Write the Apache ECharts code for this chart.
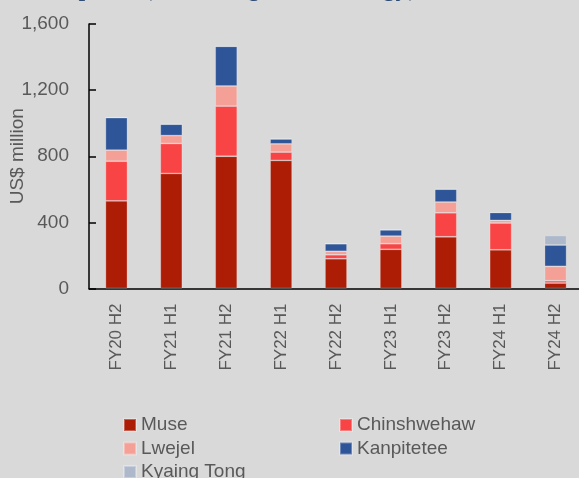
<!DOCTYPE html>
<html>
<head>
<meta charset="utf-8">
<script src="https://cdn.jsdelivr.net/npm/echarts@6/dist/echarts.min.js"></script>
<style>
  html, body { margin: 0; padding: 0; background: #D9D9D9; }
  #chart { width: 579px; height: 478px; }
</style>
</head>
<body>
<div id="chart"></div>
<script>
const categories = ['FY20 H2', 'FY21 H1', 'FY21 H2', 'FY22 H1', 'FY22 H2', 'FY23 H1', 'FY23 H2', 'FY24 H1', 'FY24 H2'];
const muse        = [530, 696, 800, 775, 180, 237, 313, 234, 33];
const chinshwehaw = [240, 181, 303, 50, 24, 34, 145, 162, 14];
const lwejel      = [67, 48, 122, 50, 21, 46, 65, 16, 87];
const kanpitetee  = [197, 69, 240, 30, 46, 38, 78, 48, 129];
const kyaingTong  = [0, 0, 0, 0, 0, 0, 0, 0, 58];
const yTicks = [0, 400, 800, 1200, 1600];

const seriesNames = ['Muse', 'Chinshwehaw', 'Lwejel', 'Kanpitetee', 'Kyaing Tong'];
const seriesData = [muse, chinshwehaw, lwejel, kanpitetee, kyaingTong];
const colors = ['#AD1C05', '#F84444', '#F4A097', '#2E5597', '#ADB9CA'];

const FONT = 'Liberation Sans';
const GREY = '#595959';

const chart = echarts.init(document.getElementById('chart'), null, { renderer: 'canvas' });
chart.setOption({
  backgroundColor: '#D9D9D9',
  animation: false,
  color: colors,
  title: {
    text: 'Exports (excluding oil & energy)',
    left: 51,
    top: -26,
    padding: 0,
    textStyle: { fontFamily: 'Liberation Serif', fontStyle: 'italic', fontWeight: 'normal', fontSize: 28, color: '#2E4B74' }
  },
  grid: { left: 89, right: -4, top: 24, bottom: 189.5, containLabel: false, outerBoundsMode: 'none' },
  legend: [
    {
      orient: 'vertical', left: 123, top: 415.5, height: 100, padding: 0,
      itemWidth: 12, itemHeight: 12, itemGap: 4.5, icon: 'rect',
      data: ['Muse', 'Lwejel', 'Kyaing Tong'],
      textStyle: { fontFamily: FONT, fontSize: 19, color: GREY, lineHeight: 17 }
    },
    {
      orient: 'vertical', left: 339, top: 415.5, height: 100, padding: 0,
      itemWidth: 12, itemHeight: 12, itemGap: 4.5, icon: 'rect',
      data: ['Chinshwehaw', 'Kanpitetee'],
      textStyle: { fontFamily: FONT, fontSize: 19, color: GREY, lineHeight: 17 }
    }
  ],
  xAxis: {
    type: 'category',
    data: categories,
    axisLine: { lineStyle: { color: '#000', width: 1.5 } },
    axisTick: { show: false },
    axisLabel: { rotate: 90, margin: 15, fontFamily: FONT, fontSize: 17, color: GREY }
  },
  yAxis: {
    type: 'value',
    min: yTicks[0], max: yTicks[yTicks.length - 1], interval: 400,
    name: 'US$ million',
    nameLocation: 'middle',
    nameGap: 62,
    nameMoveOverlap: false,
    nameTextStyle: { fontFamily: FONT, fontSize: 19, color: GREY },
    axisLine: { show: true, lineStyle: { color: '#000', width: 1.5 } },
    axisTick: { show: true, inside: true, length: 7, lineStyle: { color: '#000', width: 1.5 } },
    splitLine: { show: false },
    axisLabel: {
      margin: 20, fontFamily: FONT, fontSize: 19, color: GREY,
      formatter: v => v.toLocaleString('en-US')
    }
  },
  series: seriesNames.map((name, i) => ({
    name: name,
    type: 'bar',
    stack: 'total',
    barWidth: 22,
    data: seriesData[i],
    itemStyle: { color: colors[i], borderColor: 'rgba(255,255,255,0.3)', borderWidth: 0.8 }
  }))
});
</script>
</body>
</html>
